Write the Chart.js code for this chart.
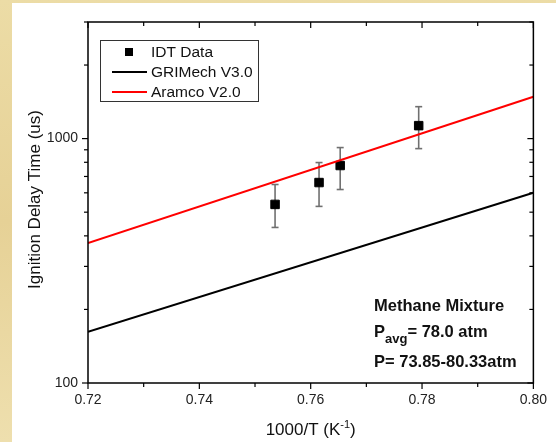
<!DOCTYPE html>
<html>
<head>
<meta charset="utf-8">
<script src="https://cdn.jsdelivr.net/npm/chart.js@4.4.1/dist/chart.umd.min.js"></script>
<style>
  html, body { margin: 0; padding: 0; }
  body {
    width: 556px; height: 442px; overflow: hidden; position: relative;
    background: linear-gradient(180deg, #ecdca6 0%, #e6d196 50%, #eedfae 100%);
  }
  #wrap { position: absolute; left: 12px; top: 3px; width: 544px; height: 439px; background: #fff; }
</style>
</head>
<body>
<div id="wrap"><canvas id="myChart" width="544" height="439"></canvas></div>
<script>
// measured ignition delay times (us) vs 1000/T
const idtX = [0.7536, 0.7615, 0.7653, 0.7794];
const idtY = [538, 661, 776, 1130];
const idtErrLow = [433, 528, 619, 910];
const idtErrHigh = [649, 798, 919, 1351];

// model predictions
const modelX = [0.72, 0.80];
const grimechY = [162, 600];
const aramcoY = [374, 1484];

const xTicks = [0.72, 0.73, 0.74, 0.75, 0.76, 0.77, 0.78, 0.79, 0.80];
const yTicks = [100, 200, 300, 400, 500, 600, 700, 800, 900, 1000, 2000, 3000];
const yLabels = [100, 1000];

const FONT = "'Liberation Sans', Arial, sans-serif";

function isMajorX(v) {
   return Math.round(v * 100) % 2 === 0;
}

function line(ctx, x1, y1, x2, y2) {
   ctx.beginPath();
   ctx.moveTo(x1, y1);
   ctx.lineTo(x2, y2);
   ctx.stroke();
}

const errorBars = {
   id: 'errorBars',
   beforeDatasetsDraw(chart) {
      const ctx = chart.ctx;
      const xs = chart.scales.x, ys = chart.scales.y;
      ctx.save();
      ctx.strokeStyle = '#707070';
      ctx.lineWidth = 1.6;
      for (let i = 0; i < idtX.length; i++) {
         const px = xs.getPixelForValue(idtX[i]);
         const lo = ys.getPixelForValue(idtErrLow[i]);
         const hi = ys.getPixelForValue(idtErrHigh[i]);
         line(ctx, px, lo, px, hi);
         line(ctx, px - 3.5, lo, px + 3.5, lo);
         line(ctx, px - 3.5, hi, px + 3.5, hi);
      }
      ctx.restore();
   }
};

const frame = {
   id: 'frame',
   afterDraw(chart) {
      const ctx = chart.ctx, a = chart.chartArea;
      const xs = chart.scales.x, ys = chart.scales.y;
      ctx.save();
      ctx.strokeStyle = '#000';
      ctx.lineWidth = 1.2;
      xTicks.forEach(v => {
         const px = xs.getPixelForValue(v);
         const len = isMajorX(v) ? 6 : 4;
         line(ctx, px, a.bottom, px, a.bottom + len);
         line(ctx, px, a.top, px, a.top + len);
      });
      yTicks.forEach(v => {
         const py = ys.getPixelForValue(v);
         const len = yLabels.includes(v) ? 6 : 4;
         line(ctx, a.left - len, py, a.left, py);
         line(ctx, a.right - len, py, a.right, py);
      });
      ctx.lineWidth = 1.5;
      ctx.strokeRect(a.left, a.top, a.right - a.left, a.bottom - a.top);

      // axis titles
      ctx.fillStyle = '#111';
      ctx.textBaseline = 'alphabetic';
      ctx.font = '17px ' + FONT;
      const t1 = '1000/T (K', t2 = '-1', t3 = ')';
      const w1 = ctx.measureText(t1).width;
      const w3 = ctx.measureText(t3).width;
      ctx.font = '11px ' + FONT;
      const w2 = ctx.measureText(t2).width;
      let x0 = (a.left + a.right) / 2 - (w1 + w2 + w3) / 2;
      const by = 432;
      ctx.font = '17px ' + FONT;
      ctx.textAlign = 'left';
      ctx.fillText(t1, x0, by);
      ctx.font = '11px ' + FONT;
      ctx.fillText(t2, x0 + w1, by - 7);
      ctx.font = '17px ' + FONT;
      ctx.fillText(t3, x0 + w1 + w2, by);

      ctx.save();
      ctx.translate(28, (a.top + a.bottom) / 2 - 3);
      ctx.rotate(-Math.PI / 2);
      ctx.textAlign = 'center';
      ctx.font = '17px ' + FONT;
      ctx.fillText('Ignition Delay Time (us)', 0, 0);
      ctx.restore();

      // legend
      const lx = 88, ly = 37;
      ctx.lineWidth = 1;
      ctx.strokeStyle = '#333';
      ctx.strokeRect(lx + 0.5, ly + 0.5, 158, 61);
      ctx.font = '15.5px ' + FONT;
      ctx.textAlign = 'left';
      ctx.textBaseline = 'middle';
      chart.data.datasets.forEach((ds, i) => {
         const yy = ly + 12 + i * 20;
         if (ds.showLine) {
            ctx.strokeStyle = ds.borderColor;
            ctx.lineWidth = 2;
            line(ctx, lx + 12, yy, lx + 47, yy);
         } else {
            ctx.fillStyle = '#000';
            ctx.fillRect(lx + 25, yy - 4, 8, 8);
         }
         ctx.fillStyle = '#111';
         ctx.fillText(ds.label, lx + 51, yy + 1);
      });

      // annotation
      ctx.textBaseline = 'alphabetic';
      ctx.fillStyle = '#111';
      const ax = 362;
      ctx.font = 'bold 16.5px ' + FONT;
      ctx.fillText('Methane Mixture', ax, 308);
      ctx.fillText('P', ax, 334);
      const wp = ctx.measureText('P').width;
      ctx.font = 'bold 13px ' + FONT;
      ctx.fillText('avg', ax + wp, 340);
      const wa = ctx.measureText('avg').width;
      ctx.font = 'bold 16.5px ' + FONT;
      ctx.fillText('= 78.0 atm', ax + wp + wa, 334);
      ctx.fillText('P= 73.85-80.33atm', ax, 364);
      ctx.restore();
   }
};

const ctx = document.getElementById('myChart').getContext('2d');
const myChart = new Chart(ctx, {
   type: 'scatter',
   data: {
      datasets: [{
         label: 'IDT Data',
         data: idtX.map((x, i) => ({ x: x, y: idtY[i] })),
         pointStyle: 'rect',
         pointRadius: 6,
         backgroundColor: '#000',
         borderColor: '#000',
         borderWidth: 1,
         order: 3
      }, {
         label: 'GRIMech V3.0',
         data: modelX.map((x, i) => ({ x: x, y: grimechY[i] })),
         showLine: true,
         borderColor: '#000000',
         borderWidth: 2,
         pointRadius: 0,
         order: 2
      }, {
         label: 'Aramco V2.0',
         data: modelX.map((x, i) => ({ x: x, y: aramcoY[i] })),
         showLine: true,
         borderColor: '#ff0000',
         borderWidth: 2,
         pointRadius: 0,
         order: 1
      }]
   },
   options: {
      responsive: false,
      animation: false,
      layout: { padding: { left: 0, top: 19, right: 21, bottom: 0 } },
      plugins: { legend: { display: false }, tooltip: { enabled: false } },
      scales: {
         x: {
            type: 'linear',
            min: 0.72,
            max: 0.80,
            afterBuildTicks: scale => { scale.ticks = xTicks.map(v => ({ value: v })); },
            afterFit: scale => { scale.height = 59; },
            grid: { display: false, drawTicks: false },
            border: { display: false },
            ticks: {
               autoSkip: false,
               maxRotation: 0,
               padding: 9,
               color: '#222',
               font: { family: FONT, size: 14 },
               callback: v => isMajorX(v) ? v.toFixed(2) : ''
            }
         },
         y: {
            type: 'logarithmic',
            min: 100,
            max: 3000,
            afterBuildTicks: scale => { scale.ticks = yTicks.map(v => ({ value: v })); },
            afterFit: scale => { scale.width = 76; },
            grid: { display: false, drawTicks: false },
            border: { display: false },
            ticks: {
               autoSkip: false,
               padding: 10,
               color: '#222',
               font: { family: FONT, size: 14 },
               callback: v => yLabels.includes(v) ? String(v) : ''
            }
         }
      }
   },
   plugins: [errorBars, frame]
});
</script>
</body>
</html>
